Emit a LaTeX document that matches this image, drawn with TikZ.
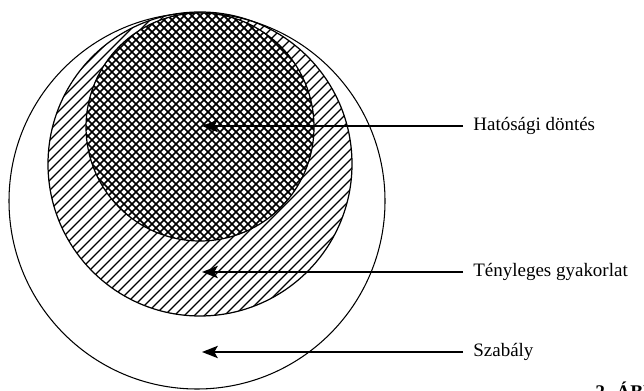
\documentclass[tikz,border=0pt]{standalone}
\usepackage{fontspec}
\setmainfont{Liberation Serif}
\usetikzlibrary{arrows.meta}

\begin{document}
\begin{tikzpicture}[x=0.02cm, y=-0.02cm,
    ring/.style={line width=0.7pt},
    hatch/.style={line width=0.65pt},
    cross/.style={line width=1pt},
    arr/.style={-{Stealth[length=9pt, width=7pt, inset=2pt]}, line width=0.9pt},
    lbl/.style={anchor=west, inner xsep=5.7pt, font=\fontsize{10.8}{13}\selectfont}
  ]
  \useasboundingbox (0,0) rectangle (644,391);
  % Szabaly (outer circle)
  \draw[line width=0.6pt] (197,201) circle[radius=188];
  % Gyakorlat (hatched circle)
  \begin{scope}
    \clip (200,164) circle[radius=152];
    \foreach \c in {140,150,...,590}
      \draw[hatch] (\c-400,400) -- (\c,0);
  \end{scope}
  \draw[ring] (200,164) circle[radius=152];
  % Dontes (cross-hatched circle)
  \fill[white] (200,127) circle[radius=114];
  \begin{scope}
    \clip (200,127) circle[radius=114];
    \foreach \c in {160,168,...,500}
      \draw[cross] (\c-400,400) -- (\c,0);
    \foreach \c in {-96,-88,...,250}
      \draw[cross] (\c,0) -- (\c+400,400);
  \end{scope}
  \draw[ring] (200,127) circle[radius=114];
  % Labels and arrows
  \coordinate (hatTip) at (202,126);
  \coordinate (gyaTip) at (202,272);
  \coordinate (szaTip) at (202,352);
  \node[lbl] (hat) at (463,126) {Hatósági döntés};
  \node[lbl] (gya) at (463,272) {Tényleges gyakorlat};
  \node[lbl] (sza) at (463,352) {Szabály};
  \draw[arr] (hat.west) -- (hatTip);
  \draw[arr] (gya.west) -- (gyaTip);
  \draw[arr] (sza.west) -- (szaTip);
  % Caption (cut off by the page edge)
  \begin{scope}
    \clip (0,0) rectangle (644,391);
    \node[anchor=base west, inner sep=0pt, font=\bfseries\fontsize{11}{13}\selectfont]
      (cap) at (595,398) {2. ÁBRA};
  \end{scope}
\end{tikzpicture}
\end{document}
